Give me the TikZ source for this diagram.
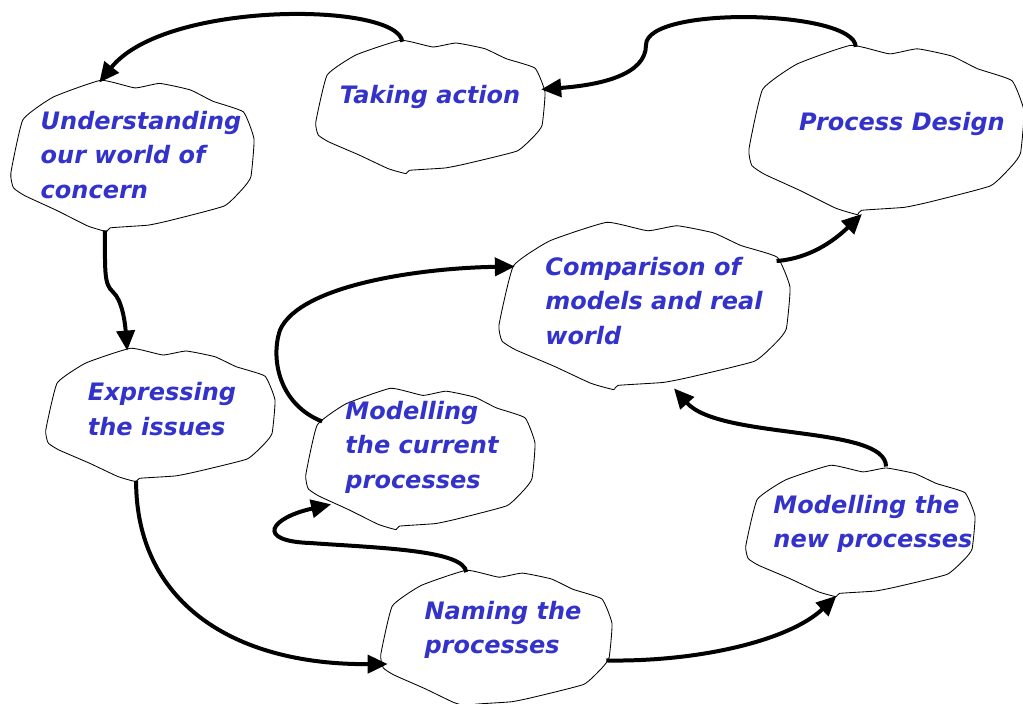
\documentclass[tikz,border=0pt]{standalone}
\usepackage{fontspec}
\usetikzlibrary{arrows.meta,shapes.geometric}
\newfontfamily\blobfont[BoldFont={DejaVu Sans Bold}, BoldItalicFont={DejaVu Sans Bold Oblique}]{DejaVu Sans}
\definecolor{blobblue}{RGB}{51,51,204}

\tikzset{
  blob/.style={ellipse, inner sep=0pt, draw=none},
  blobedge/.style={line width=0.85pt, line join=round},
  blobtext/.style={align=left, text=blobblue, inner sep=0pt,
    font=\blobfont\bfseries\itshape\fontsize{24}{34.5}\selectfont},
  flow/.style={line width=4pt, -{Triangle[length=20pt,width=18pt]}},
}

\begin{document}
\begin{tikzpicture}[x=1pt, y=-1pt]
\path[use as bounding box, fill=white] (0,0) rectangle (1023,704);
% clouds
\foreach \n/\x/\y/\w/\h in {und/132/156/122/76, tak/430/107/115/67, pro/886/130/138/85,
    com/644/306/146/84, exp/160/415/115/67, cur/420/459/115/71,
    nam/496/639/116/69, new/860/531/115/66}{
  \node[blob, minimum width={2pt*\w}, minimum height={2pt*\h}] (\n) at (\x,\y) {};
  \begin{scope}[shift={(\n.center)}, xscale=\w, yscale=\h]
    \draw[blobedge] plot[smooth cycle, tension=.25] coordinates {
      (-0.255,-0.996) (0.025,-0.896) (0.227,-0.955) (0.477,-0.87) (0.664,-0.72)
      (0.913,-0.58) (1.0,-0.224) (0.975,0.27) (0.913,0.42) (0.757,0.657)
      (0.318,0.846) (0.131,0.91) (-0.178,0.945) (-0.208,0.995) (-0.364,0.92)
      (-0.617,0.716) (-0.879,0.522) (-0.972,0.418) (-0.993,0.224) (-0.894,-0.478)
      (-0.645,-0.776)};
  \end{scope}
}

\node[blobtext] (und-t) at (141,155) {Understanding\\our world of\\concern};
\node[blobtext] (tak-t) at (430,97) {Taking action};
\node[blobtext] (pro-t) at (902,124) {Process Design};
\node[blobtext] (com-t) at (654,301) {Comparison of\\models and real\\world};
\node[blobtext] (exp-t) at (162,409) {Expressing\\the issues};
\node[blobtext] (cur-t) at (422,447) {Modelling\\the current\\processes};
\node[blobtext] (nam-t) at (503,630) {Naming the\\processes};
\node[blobtext] (new-t) at (873,524) {Modelling the\\new processes};

\draw[flow] (tak.113) .. controls (398,2) and (165,0) .. (und.114);
\draw[flow] (pro.110) .. controls (855,10) and (646,5) .. (646,45)
  .. controls (646,75) and (600,85) .. (tak.9);
\draw[flow] (und.250) .. controls (105,272) and (104,284) .. (113,292)
  .. controls (122,300) and (125,322) .. (exp.117);
\draw[flow] (exp.250) .. controls (136,600) and (230,665) .. (nam.193);
\draw[flow] (nam.114) .. controls (464,550) and (380,548) .. (310,543)
  .. controls (255,541) and (270,518) .. (cur.207);
\draw[flow] (cur.159) .. controls (280,405) and (270,360) .. (280,330)
  .. controls (300,285) and (420,268) .. (com.163);
\draw[flow] (nam.349) .. controls (700,662) and (790,640) .. (new.250);
\draw[flow] (new.68) .. controls (886,425) and (720,440) .. (com.290);
\draw[flow] ([xshift=9pt]com.20) .. controls (815,258) and (840,235) .. (pro.254);
\end{tikzpicture}
\end{document}
